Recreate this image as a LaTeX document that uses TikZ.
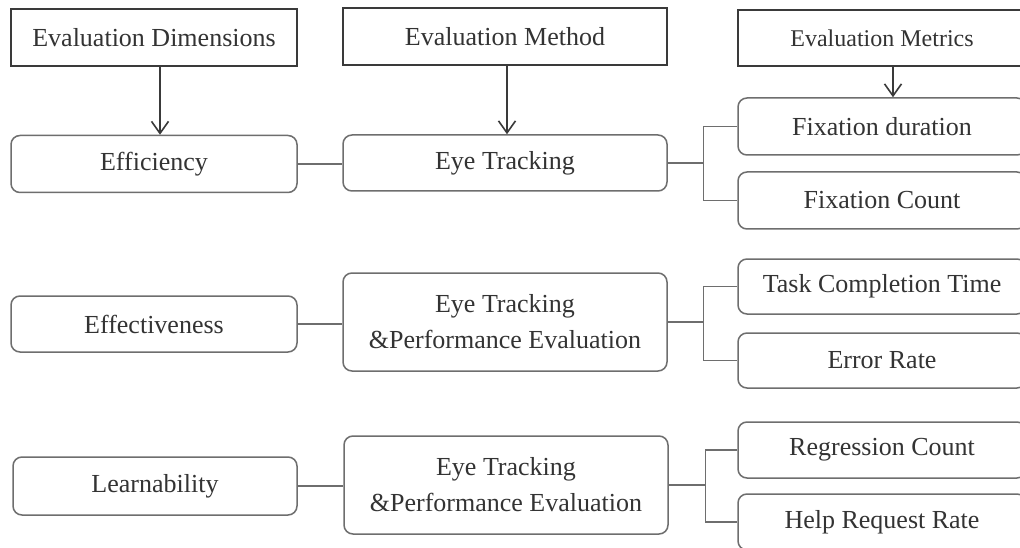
\documentclass[tikz,border=0pt]{standalone}
\usepackage{fontspec}
\setmainfont{Liberation Serif}
\usetikzlibrary{arrows.meta,calc}
\definecolor{txt}{HTML}{333333}
\definecolor{hdline}{HTML}{3A3A3A}
\definecolor{bxline}{HTML}{6E6E6E}
\tikzset{
  hdbox/.style={draw=hdline, line width=2.4pt, rectangle, inner sep=0pt, text=txt,
    font=\fontsize{26}{30}\selectfont, fill=white},
  rbox/.style={draw=bxline, line width=1.5pt, rectangle, rounded corners=9pt, inner sep=0pt,
    text=txt, font=\fontsize{26}{36}\selectfont, align=center, fill=white},
  arr/.style={draw=hdline, line width=1.6pt, -{Straight Barb[length=12pt,width=17pt,line width=1.6pt]}},
  link/.style={draw=bxline, line width=1.4pt}
}
\begin{document}
\begin{tikzpicture}[x=1pt,y=-1pt]
\path[use as bounding box] (0,0) rectangle (1020,548);
\clip (0,0) rectangle (1020,548);
\fill[white] (0,0) rectangle (1020,548);
% headers
\node[hdbox, minimum width=286pt, minimum height=57pt] (hd) at (154,37.5) {Evaluation Dimensions};
\node[hdbox, minimum width=324pt, minimum height=57pt] (hm) at (505,36.5) {Evaluation Method};
\node[hdbox, minimum width=288pt, minimum height=56pt, font=\fontsize{24}{28}\selectfont] (hx) at (882,38) {Evaluation Metrics};
% row 1
\node[rbox, minimum width=286pt, minimum height=57pt] (d1) at (154,164) {Efficiency};
\node[rbox, minimum width=324pt, minimum height=56pt] (m1) at (505,163) {Eye Tracking};
\node[rbox, minimum width=288pt, minimum height=57pt] (x1a) at (882,126.5) {Fixation duration};
\node[rbox, minimum width=288pt, minimum height=57pt] (x1b) at (882,200.5) {Fixation Count};
% row 2
\node[rbox, minimum width=286pt, minimum height=56pt] (d2) at (154,324) {Effectiveness};
\node[rbox, minimum width=324pt, minimum height=98pt] (m2) at (505,322) {Eye Tracking\\\&Performance Evaluation};
\node[rbox, minimum width=288pt, minimum height=55pt] (x2a) at (882,286.5) {Task Completion Time};
\node[rbox, minimum width=288pt, minimum height=55pt] (x2b) at (882,360.5) {Error Rate};
% row 3
\node[rbox, minimum width=284pt, minimum height=58pt] (d3) at (155,486) {Learnability};
\node[rbox, minimum width=324pt, minimum height=98pt] (m3) at (506,485) {Eye Tracking\\\&Performance Evaluation};
\node[rbox, minimum width=288pt, minimum height=56pt] (x3a) at (882,450) {Regression Count};
\node[rbox, minimum width=288pt, minimum height=56pt] (x3b) at (882,522) {Help Request Rate};
% arrows
\draw[arr] ([xshift=6pt]hd.south) -- ([xshift=6pt]d1.north);
\draw[arr] ([xshift=2pt]hm.south) -- ([xshift=2pt]m1.north);
\draw[arr] ([xshift=11pt]hx.south) -- ([xshift=11pt]x1a.north);
% links dimension -> method
\draw[link] (d1.east) -- (d1.east -| m1.west);
\draw[link] (d2.east) -- (d2.east -| m2.west);
\draw[link] (d3.east) -- (d3.east -| m3.west);
% brackets
\coordinate (j1) at ($(m1.east)+(36,0)$);
\coordinate (j2) at ($(m2.east)+(36,0)$);
\coordinate (j3) at ($(m3.east)+(37,0)$);
\draw[link] (m1.east) -- (j1);
\draw[link] (x1a.west) -| (j1) |- (x1b.west);
\draw[link] (m2.east) -- (j2);
\draw[link] (x2a.west) -| (j2) |- (x2b.west);
\draw[link] (m3.east) -- (j3);
\draw[link] (x3a.west) -| (j3) |- (x3b.west);
\end{tikzpicture}
\end{document}
